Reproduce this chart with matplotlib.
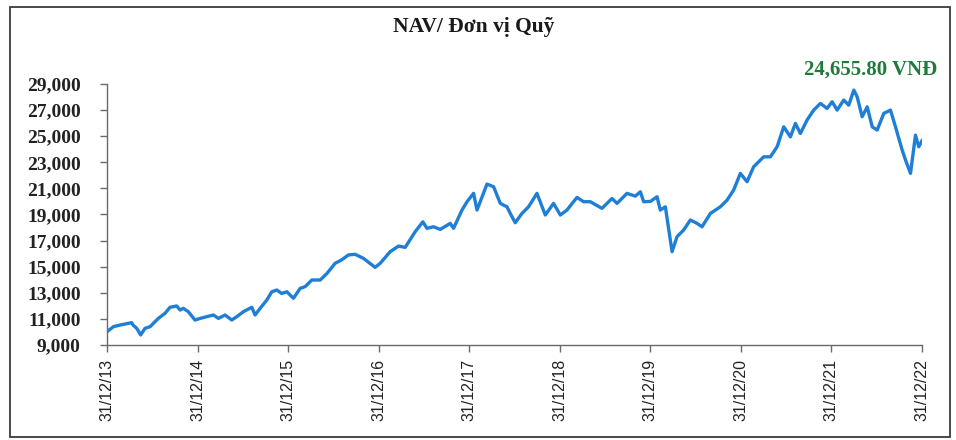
import matplotlib
matplotlib.use("Agg")
import matplotlib.pyplot as plt
from matplotlib.patches import Rectangle

# Time in years since 31/12/2013, and NAV per fund unit (VND)
t_years = [
    0.000, 0.070, 0.144, 0.273, 0.287, 0.328, 0.372, 0.420, 0.475, 0.567,
    0.641, 0.696, 0.770, 0.807, 0.843, 0.898, 0.972, 1.028, 1.102, 1.175,
    1.230, 1.304, 1.378, 1.433, 1.506, 1.599, 1.635, 1.691, 1.765, 1.820,
    1.875, 1.930, 1.986, 2.059, 2.133, 2.188, 2.262, 2.354, 2.431, 2.519,
    2.586, 2.666, 2.740, 2.832, 2.961, 3.017, 3.127, 3.219, 3.293, 3.403,
    3.488, 3.533, 3.606, 3.680, 3.790, 3.827, 3.920, 3.978, 4.048, 4.086,
    4.196, 4.269, 4.343, 4.417, 4.453, 4.508, 4.582, 4.655, 4.748, 4.840,
    4.931, 5.006, 5.079, 5.190, 5.263, 5.337, 5.466, 5.577, 5.632, 5.742,
    5.834, 5.890, 5.926, 6.000, 6.074, 6.110, 6.166, 6.240, 6.295, 6.368,
    6.442, 6.516, 6.571, 6.663, 6.773, 6.847, 6.920, 6.994, 7.068, 7.141,
    7.215, 7.252, 7.326, 7.400, 7.473, 7.547, 7.602, 7.657, 7.731, 7.804,
    7.878, 7.952, 8.008, 8.063, 8.136, 8.191, 8.247, 8.284, 8.339, 8.395,
    8.450, 8.505, 8.578, 8.652, 8.707, 8.781, 8.818, 8.873, 8.928, 8.964,
    9.000,
]
nav = [
    10020, 10400, 10530, 10710, 10530, 10280, 9770, 10280, 10400, 11040,
    11430, 11890, 11990, 11680, 11810, 11550, 10910, 11040, 11170, 11300,
    11040, 11300, 10915, 11170, 11550, 11890, 11300, 11810, 12450, 13080,
    13210, 12950, 13080, 12580, 13340, 13470, 13980, 13980, 14500, 15260,
    15500, 15900, 15950, 15640, 14950, 15260, 16150, 16580, 16480, 17680,
    18440, 17940, 18060, 17860, 18320, 17940, 19340, 20000, 20620, 19340,
    21330, 21130, 19850, 19590, 19080, 18370, 19080, 19590, 20620, 18960,
    19850, 18960, 19340, 20310, 19980, 19980, 19470, 20230, 19850, 20620,
    20410, 20740, 19980, 20000, 20360, 19340, 19590, 16150, 17300, 17810,
    18580, 18320, 18060, 19080, 19590, 20100, 20870, 22150, 21510, 22660,
    23170, 23420, 23420, 24190, 25720, 24950, 25980, 25210, 26240, 27000,
    27510, 27130, 27640, 27000, 27770, 27380, 28530, 28020, 26490, 27250,
    25720, 25470, 26750, 27000, 25720, 23940, 23170, 22150, 25080, 24190,
    24655.80,
]

x_tick_labels = ["31/12/13", "31/12/14", "31/12/15", "31/12/16", "31/12/17",
                 "31/12/18", "31/12/19", "31/12/20", "31/12/21", "31/12/22"]
y_ticks = [9000, 11000, 13000, 15000, 17000, 19000, 21000, 23000, 25000, 27000, 29000]

title_text = "NAV/ Đơn vị Quỹ"
latest_label = "24,655.80 VNĐ"

W, H = 956, 440
fig = plt.figure(figsize=(W / 100, H / 100), dpi=100)
fig.patch.set_facecolor("white")

# outer frame of the chart
fig.add_artist(Rectangle((10 / W, 1 - 437 / H), 940 / W, 430 / H,
                         transform=fig.transFigure, fill=False,
                         edgecolor="#3a3a3a", linewidth=1.3))

ax = fig.add_axes([107 / W, 1 - 345 / H, (922 - 107) / W, (345 - 84) / H])
ax.plot(t_years, nav, color="#1f7fd6", linewidth=2.4, solid_joinstyle="round")

ax.set_xlim(0, 9)
ax.set_ylim(9000, 29000)
ax.set_xticks(range(len(x_tick_labels)))
ax.set_xticklabels(x_tick_labels, rotation=90, fontfamily="Liberation Sans",
                   fontsize=11.5, color="#222222")
ax.set_yticks(y_ticks)
ax.set_yticklabels([f"{v:,}" for v in y_ticks], fontfamily="Liberation Serif",
                   fontweight="bold", fontsize=14, color="#222222")

for side in ("top", "right"):
    ax.spines[side].set_visible(False)
for side in ("left", "bottom"):
    ax.spines[side].set_color("#6a6a6a")
    ax.spines[side].set_linewidth(1.0)
ax.tick_params(axis="y", direction="out", length=5, width=1, color="#6a6a6a", pad=14)
ax.tick_params(axis="x", direction="out", length=5, width=1, color="#6a6a6a", pad=5)

fig.text(474 / W, 1 - 27 / H, title_text, ha="center", va="center",
         fontfamily="Liberation Serif", fontweight="bold", fontsize=15.5, color="#1a1a1a")

# label for the latest NAV, placed above the end of the series
ax.annotate(latest_label, xy=(t_years[-1], nav[-1]), xycoords="data",
            xytext=(871 / W, 1 - 70 / H), textcoords="figure fraction",
            ha="center", va="center", fontfamily="Liberation Serif",
            fontweight="bold", fontsize=15, color="#1e7b3a")

fig.savefig("out.png", dpi=100, facecolor="white")
